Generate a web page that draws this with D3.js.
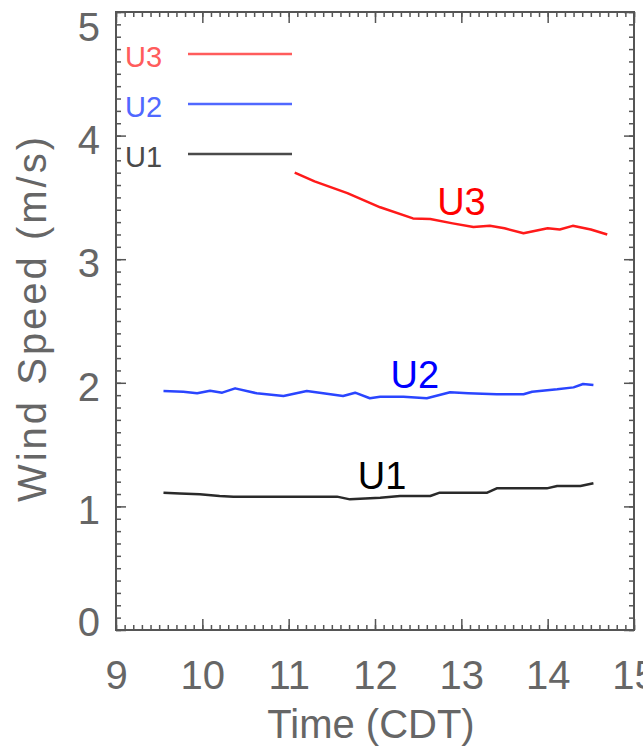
<!DOCTYPE html>
<html>
<head>
	<title>Wind Speed</title>
	<script src="https://d3js.org/d3.v7.min.js"></script>
	<style>
		body { margin: 0; background: #fff; }
		text { font-family: "Liberation Sans", Arial, sans-serif; }
	</style>
</head>
<body>
	<svg id="chart" width="643" height="750"></svg>

	<script type="text/javascript">
// 数据: 时间 (CDT) 与风速 (m/s)
var seriesNames = ['U3', 'U2', 'U1'];
var xTicks = [9, 10, 11, 12, 13, 14, 15];
var yTicks = [0, 1, 2, 3, 4, 5];

var timeU3 = [11.07, 11.30, 11.68, 12.06, 12.44, 12.64, 12.90, 13.14, 13.33, 13.50, 13.72, 14.00, 14.14, 14.29, 14.50, 14.69];
var u3     = [3.70, 3.63, 3.535, 3.42, 3.33, 3.325, 3.29, 3.26, 3.27, 3.25, 3.21, 3.25, 3.24, 3.27, 3.24, 3.20];

var timeU2 = [9.55, 9.78, 9.94, 10.09, 10.23, 10.38, 10.63, 10.94, 11.21, 11.40, 11.63, 11.77, 11.94, 12.06, 12.33, 12.60, 12.87, 13.08, 13.41, 13.72, 13.82, 14.11, 14.30, 14.41, 14.53];
var u2     = [1.934, 1.928, 1.915, 1.936, 1.92, 1.955, 1.915, 1.893, 1.934, 1.915, 1.893, 1.92, 1.875, 1.888, 1.888, 1.875, 1.923, 1.915, 1.907, 1.907, 1.928, 1.947, 1.963, 1.99, 1.982];

var timeU1 = [9.55, 9.74, 9.97, 10.20, 10.36, 10.94, 11.56, 11.71, 12.06, 12.29, 12.64, 12.75, 13.30, 13.41, 13.99, 14.11, 14.38, 14.53];
var u1     = [1.111, 1.105, 1.098, 1.084, 1.079, 1.079, 1.079, 1.057, 1.07, 1.084, 1.084, 1.111, 1.111, 1.146, 1.146, 1.165, 1.165, 1.187];

var svg = d3.select('#chart');
var plotL = 116, plotR = 634, plotT = 12, plotB = 630;

var x = d3.scaleLinear().domain([9, 15]).range([plotL, plotR]);
var y = d3.scaleLinear().domain([0, 5]).range([plotB, plotT]);

var axisColor = '#555';
var textColor = '#666';
var colors = { U3: '#ff1a1a', U2: '#2a45ff', U1: '#2a2a2a' };
var legendColors = { U3: '#ff5c5c', U2: '#5068ff', U1: '#4a4a4a' };
var labelColors = { U3: '#ff0000', U2: '#0000ff', U1: '#000000' };

//  刻度: 主刻度 + 次刻度 (四边都画, 朝内)
var xMinor = d3.range(90, 151).map(function(d) { return d / 10; });
var yMinor = d3.range(0, 51).map(function(d) { return d / 10; });

function tickAxis(axis, tr) {
    var g = svg.append('g').attr('transform', tr).call(axis);
    g.select('.domain').remove();
    g.selectAll('line').attr('stroke', axisColor).attr('stroke-width', 1.5);
    return g;
}

tickAxis(d3.axisBottom(x).tickValues(xMinor).tickSize(-5).tickFormat(''), 'translate(0,' + plotB + ')');
tickAxis(d3.axisBottom(x).tickValues(xTicks).tickSize(-11).tickFormat(''), 'translate(0,' + plotB + ')');
tickAxis(d3.axisTop(x).tickValues(xMinor).tickSize(-5).tickFormat(''), 'translate(0,' + plotT + ')');
tickAxis(d3.axisTop(x).tickValues(xTicks).tickSize(-11).tickFormat(''), 'translate(0,' + plotT + ')');
tickAxis(d3.axisLeft(y).tickValues(yMinor).tickSize(-5).tickFormat(''), 'translate(' + plotL + ',0)');
tickAxis(d3.axisLeft(y).tickValues(yTicks).tickSize(-10).tickFormat(''), 'translate(' + plotL + ',0)');
tickAxis(d3.axisRight(y).tickValues(yMinor).tickSize(-5).tickFormat(''), 'translate(' + plotR + ',0)');
tickAxis(d3.axisRight(y).tickValues(yTicks).tickSize(-10).tickFormat(''), 'translate(' + plotR + ',0)');

//  边框
svg.append('rect')
    .attr('x', plotL).attr('y', plotT)
    .attr('width', plotR - plotL).attr('height', plotB - plotT)
    .attr('fill', 'none').attr('stroke', axisColor).attr('stroke-width', 2);

//  刻度标签
var xLab = d3.axisBottom(x).tickValues(xTicks).tickSize(0).tickPadding(0).tickFormat(d3.format('d'));
var gx = svg.append('g').attr('transform', 'translate(0,' + plotB + ')').call(xLab);
gx.select('.domain').remove();
gx.selectAll('text').attr('y', 59).attr('dy', null)
    .attr('font-size', 40).attr('fill', textColor)
    .attr('font-family', '"Liberation Sans", Arial, sans-serif');

var yLab = d3.axisLeft(y).tickValues(yTicks).tickSize(0).tickPadding(16).tickFormat(d3.format('d'));
var gy = svg.append('g').attr('transform', 'translate(' + plotL + ',0)').call(yLab);
gy.select('.domain').remove();
//  两端的标签向内挪一点, 与原图一致
gy.selectAll('text').attr('dy', '0.36em')
    .attr('y', function(d) { return d === 5 ? 14 : (d === 0 ? -9 : 3); })
    .attr('font-size', 40).attr('fill', textColor)
    .attr('font-family', '"Liberation Sans", Arial, sans-serif');

//  轴标题
svg.append('text')
    .attr('x', (plotL + plotR) / 2 - 4).attr('y', 738)
    .attr('text-anchor', 'middle')
    .attr('font-size', 40).attr('fill', textColor)
    .text('Time (CDT)');

svg.append('text')
    .attr('transform', 'translate(46,' + 318 + ') rotate(-90)')
    .attr('text-anchor', 'middle')
    .attr('font-size', 40).attr('fill', textColor)
    .attr('letter-spacing', 3)
    .text('Wind Speed (m/s)');

//  折线
var lineCreator = d3.line()
    .x(function(d) { return x(d[0]); })
    .y(function(d) { return y(d[1]); });

var series = [
    { name: 'U3', data: d3.zip(timeU3, u3) },
    { name: 'U2', data: d3.zip(timeU2, u2) },
    { name: 'U1', data: d3.zip(timeU1, u1) }
];

series.forEach(function(s) {
    svg.append('path')
        .attr('d', lineCreator(s.data))
        .attr('fill', 'none')
        .attr('stroke', colors[s.name])
        .attr('stroke-width', 2.5)
        .attr('stroke-linejoin', 'round');
});

//  图例
seriesNames.forEach(function(name, i) {
    var ly = 54 + i * 50;
    svg.append('text')
        .attr('x', 125).attr('y', ly + 13)
        .attr('font-size', 29).attr('fill', legendColors[name])
        .text(name);
    svg.append('line')
        .attr('x1', 188).attr('x2', 292)
        .attr('y1', ly).attr('y2', ly)
        .attr('stroke', legendColors[name]).attr('stroke-width', 2.5);
});

//  曲线旁的标注
var labelAt = { U3: [12.72, 3.36], U2: [12.18, 1.96], U1: [11.8, 1.14] };
seriesNames.forEach(function(name) {
    svg.append('text')
        .attr('x', x(labelAt[name][0]))
        .attr('y', y(labelAt[name][1]))
        .attr('font-size', 38).attr('fill', labelColors[name])
        .attr('font-family', 'Arial, "Liberation Sans", sans-serif')
        .text(name);
});
</script>
</body>
</html>
